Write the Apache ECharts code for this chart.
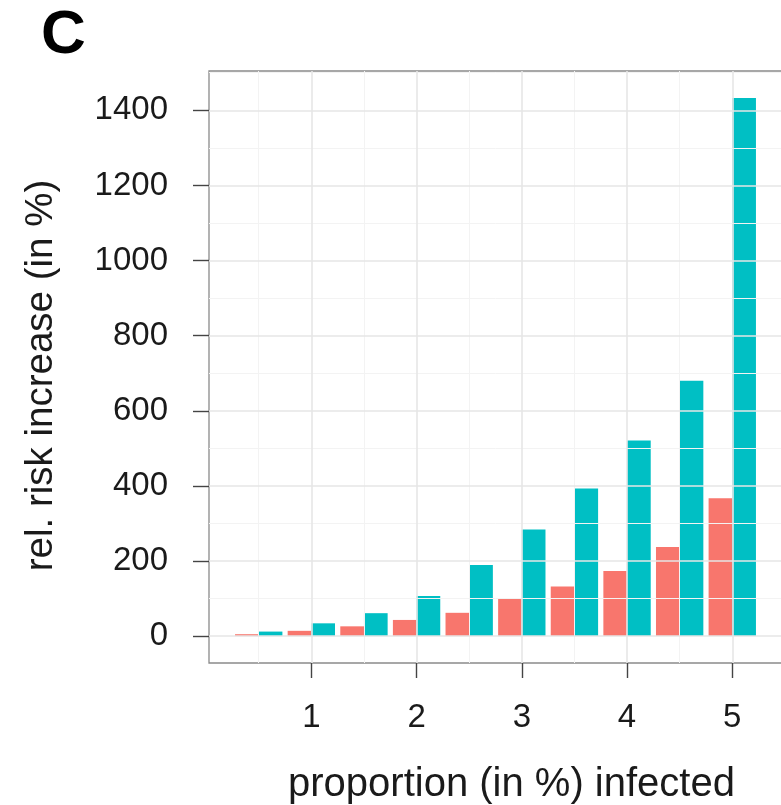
<!DOCTYPE html>
<html><head><meta charset="utf-8">
<script src="https://cdn.jsdelivr.net/npm/echarts@6/dist/echarts.min.js"></script>
<style>html,body{margin:0;padding:0;background:#fff}#c{width:781px;height:805px}</style>
</head><body><div id="c"></div>
<script>
const xValues = [0.5, 1, 1.5, 2, 2.5, 3, 3.5, 4, 4.5, 5];
const redValues = [5, 14, 26, 43, 62, 100, 132, 173, 237, 367];
const tealValues = [12, 34, 61, 107, 189, 284, 393, 521, 680, 1433];
const yTicks = [0, 200, 400, 600, 800, 1000, 1200, 1400];
const yMinor = [100, 300, 500, 700, 900, 1100, 1300, 1500];
const xTicks = [1, 2, 3, 4, 5];
const xMinor = [0.5, 1.5, 2.5, 3.5, 4.5];

const FONT = 'Liberation Sans';
const chart = echarts.init(document.getElementById('c'));
const gl = (arr, key, color, width) => arr.map(v => ({ [key]: v, lineStyle: { color, width, type: 'solid' } }));

chart.setOption({
  animation: false,
  backgroundColor: '#fff',
  title: { text: 'C', left: 41, top: 5, padding: 0, textStyle: { fontFamily: FONT, fontWeight: 'bold', fontSize: 62, color: '#000' } },
  grid: { left: 209, top: 71, right: -1, bottom: 142, outerBoundsMode: 'none', containLabel: false, show: true, borderColor: '#8a8a8a', borderWidth: 1.3, backgroundColor: '#fff' },
  xAxis: {
    type: 'value', min: 0.0275, max: 5.4725,
    name: 'proportion (in %) infected', nameLocation: 'middle', nameGap: 102,
    nameTextStyle: { fontFamily: FONT, fontSize: 40, color: '#1a1a1a', padding: [0, 0, 0, 32] },
    axisLine: { show: false, onZero: false },
    axisTick: { show: true, length: 15, customValues: xTicks, lineStyle: { color: '#444', width: 1.4 } },
    axisLabel: { customValues: xTicks, margin: 38, fontFamily: FONT, fontSize: 33, color: '#1a1a1a', formatter: v => String(v) },
    splitLine: { show: false }, minorSplitLine: { show: false }
  },
  yAxis: {
    type: 'value', min: -71.65, max: 1504.65,
    name: 'rel. risk increase (in %)', nameLocation: 'middle', nameGap: 148, nameRotate: 90,
    nameTextStyle: { fontFamily: FONT, fontSize: 38.5, color: '#1a1a1a', padding: [0, 17, 0, 0] },
    axisLine: { show: false, onZero: false },
    axisTick: { show: true, length: 16, customValues: yTicks, lineStyle: { color: '#444', width: 1.4 } },
    axisLabel: { customValues: yTicks, margin: 41, fontFamily: FONT, fontSize: 33, color: '#1a1a1a', formatter: v => String(v) },
    splitLine: { show: false }, minorSplitLine: { show: false }
  },
  series: [
    {
      type: 'line', data: [], z: 0, silent: true,
      markLine: {
        silent: true, symbol: 'none', label: { show: false }, animation: false,
        data: [].concat(
          gl(yMinor, 'yAxis', '#f3f3f3', 1),
          gl(xMinor, 'xAxis', '#f3f3f3', 1),
          gl(yTicks, 'yAxis', '#e6e6e6', 1.6),
          gl(xTicks, 'xAxis', '#e6e6e6', 1.6)
        )
      }
    },
    { type: 'bar', z: 3, data: xValues.map((x, i) => [x, redValues[i]]), barWidth: '45%', barGap: '0%', itemStyle: { color: '#F8766D' } },
    { type: 'bar', z: 3, data: xValues.map((x, i) => [x, tealValues[i]]), barWidth: '45%', barGap: '0%', itemStyle: { color: '#00BFC4' } }
  ]
});
</script></body></html>
